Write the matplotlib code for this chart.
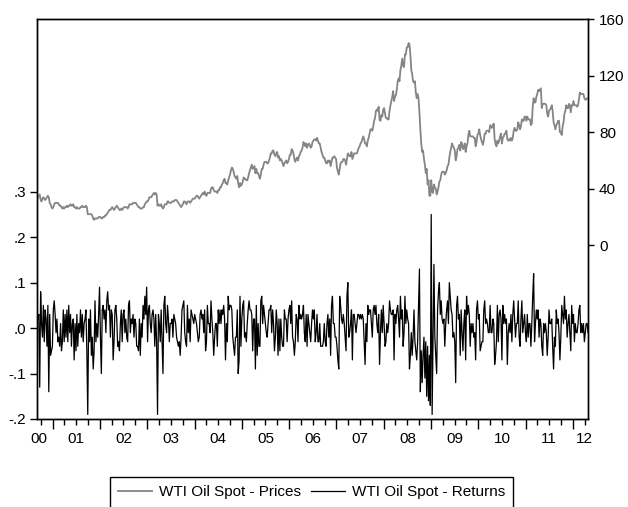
import datetime

import matplotlib
matplotlib.use('Agg')
import matplotlib.pyplot as plt
import matplotlib.dates as mdates
import matplotlib.ticker as mticker
import pandas as pd

plt.rcParams['font.family'] = ['Liberation Sans Narrow', 'Liberation Sans', 'DejaVu Sans']

# weekly (Friday) observations starting 2000-09-01
start_date = '2000-09-01'

# WTI spot price, USD per barrel
prices = [
    33, 34, 35, 36, 32, 31, 33, 34, 33, 32, 33, 34, 35, 34, 30, 29, 27, 26,
    27, 29, 30, 30, 30, 30, 29, 28, 28, 27, 26, 27, 26, 27, 27, 28, 27, 28, 28, 29, 28, 28, 29, 27, 27, 26,
    27, 26, 26, 26, 27, 27, 28, 27, 27, 27, 28, 27, 22, 22, 22, 22, 22, 21, 19, 18, 19, 19, 19, 19, 20, 20,
    20, 19, 19, 20, 20, 21, 21, 22, 23, 24, 25, 25, 26, 27, 26, 25, 26, 27, 28, 27, 26, 25, 25, 26, 25, 26,
    27, 27, 27, 27, 26, 27, 29, 29, 29, 29, 30, 30, 30, 30, 29, 28, 27, 27, 26, 26, 26, 27, 27, 29, 30, 31,
    31, 32, 34, 34, 34, 35, 36, 37, 36, 37, 36, 28, 29, 28, 28, 29, 27, 26, 27, 29, 29, 29, 31, 31, 30, 30,
    30, 31, 31, 31, 32, 32, 32, 31, 30, 29, 28, 27, 28, 29, 31, 31, 30, 29, 31, 31, 31, 30, 31, 32, 33, 33,
    33, 34, 35, 35, 34, 33, 34, 35, 36, 37, 36, 38, 36, 35, 37, 37, 37, 37, 40, 41, 41, 39, 38, 38, 38, 37,
    39, 39, 41, 41, 43, 44, 46, 47, 44, 44, 43, 46, 48, 50, 53, 55, 54, 52, 49, 48, 47, 49, 44, 41, 44, 42, 43,
    45, 48, 47, 47, 46, 46, 48, 51, 53, 55, 57, 54, 55, 56, 51, 54, 51, 51, 49, 47, 50, 54, 54, 57, 59,
    59, 59, 58, 58, 60, 62, 65, 65, 67, 67, 64, 63, 65, 66, 62, 63, 60, 61, 60, 58, 56, 58, 59, 60, 58, 59, 61,
    64, 64, 68, 67, 65, 61, 59, 61, 62, 60, 63, 64, 66, 67, 69, 73, 72, 70, 72, 69, 71, 72, 71, 69, 70, 73,
    74, 75, 75, 74, 76, 74, 72, 72, 69, 66, 64, 62, 62, 60, 58, 58, 60, 59, 60, 56, 59, 62, 62, 63, 62, 61,
    55, 52, 50, 54, 58, 59, 59, 61, 61, 60, 57, 61, 65, 64, 63, 63, 66, 61, 63, 65, 65, 65, 65, 67, 69, 70,
    72, 73, 75, 77, 75, 72, 72, 70, 74, 76, 79, 82, 82, 81, 84, 88, 90, 95, 96, 95, 98, 89, 88, 92, 91, 96,
    97, 93, 90, 90, 89, 89, 95, 99, 102, 105, 109, 102, 105, 106, 110, 116, 118, 116, 124, 127, 132, 127,
    126, 135, 135, 140, 140, 143, 142, 135, 124, 121, 116, 115, 116, 108, 104, 107, 104,
    94, 82, 72, 66, 67, 61, 57, 51, 54, 43, 46, 35, 35,
    46, 38, 37, 43, 41, 40, 36, 38, 41, 45, 46, 50, 52, 52, 52, 50, 51, 53, 56, 57, 62, 66, 69, 72, 70, 69,
    67, 60, 63, 68, 69, 71, 67, 73, 72, 68, 69, 72, 66, 70, 72, 78, 81, 77, 77, 77, 77, 76, 76, 70, 73, 78,
    79, 82, 78, 75, 73, 71, 74, 79, 79, 81, 81, 81, 80, 85, 84, 83, 85, 86, 75, 72, 70, 74, 72, 74, 77, 79,
    72, 76, 77, 79, 79, 81, 75, 74, 75, 74, 76, 74, 76, 81, 83, 81, 81, 82, 87, 85, 82, 84, 89, 88, 88, 91, 91,
    88, 91, 89, 89, 89, 85, 86, 98, 104, 101, 101, 105, 107, 110, 109, 110, 111, 97, 100, 100, 100,
    100, 99, 93, 91, 95, 96, 97, 99, 95, 87, 85, 82, 85, 86, 88, 88, 80, 80, 78, 84, 87, 93,
    95, 99, 97, 97, 100, 99, 94, 99, 99,
    102, 99, 99, 99, 98, 99, 103, 108, 107, 107, 107, 107, 104, 103, 103, 104, 104,
]

# weekly log returns
returns = [
    .04, .02, .03, -.13, .08, .01, -.02, .05, -.03, .04, .02, -.04, .05, -.14, .03, -.06, -.05, -.04,
    .04, .06, .03, -.01, .02, -.03, -.02, -.04, .01, -.05, -.03, .04, -.03, .03, -.02, .04, -.03,
    .05, -.01, .03, -.04, .01, .02, -.07, .01, -.05, .03, -.04, .01, -.01, .04, -.02, .03, -.03, .01,
    .02, .04, -.05, -.19, .02, -.03, .04, -.06, -.02, -.09, -.05, .06, -.03, .01, -.02, .03, .09,
    -.02, -.10, .04, .05, .02, .04, -.01, .06, .08, .04, .05, -.02, .04, .03, -.07, -.03, .04,
    .05, .02, -.04, -.03, -.05, .01, .04, -.03, .03, .04, -.01, .02, -.02, -.03, .05, .06, -.01, .02,
    .01, .03, -.02, .02, .01, -.04, -.04, -.05, .02, -.06, .01, -.02, .05, .02, .07, .03, .09,
    -.03, .04, .05, .01, -.01, .03, .04, .02, -.04, .03, -.03, -.19, .03, .01, -.03, .04, -.03,
    -.10, .05, .07, .01, -.01, .05, .02, -.03, .01, .01, .02, -.02, .03, .02, .01, -.02, -.03, -.04,
    -.03, -.06, -.02, .04, .05, .06, -.01, -.03, -.04, .05, -.01, .02, -.03, .04, .03, .02, .01,
    .03, .02, .01, -.01, -.03, -.02, .03, .04, .02, .03, -.01, .04, -.05, -.03, .05, .01, .01, -.01,
    .06, .02, -.01, -.06, -.02, .01, .01, -.04, .04, .01, .04, .01, .04, .03, .05, .02, -.07,
    .01, -.03, .07, .04, .05, .05, .04, -.02, -.04, -.06, -.02, -.02, .04, -.10, -.07, .07, -.04, .02,
    .05, .06, -.02, -.01, -.03, .01, .04, .06, .04, .04, .03, -.05, .02, .02, -.09, .05, -.06,
    .01, -.04, -.04, .06, .07, .01, .05, .03, .01, -.01, -.02, .01, .04, .04, .05, -.01, .04,
    .01, -.05, -.02, .04, .01, -.06, .02, -.05, .02, -.02, -.04, -.04, .04, .02, .02, -.03, .02, .04,
    .05, .01, .06, -.02, -.03, -.06, -.03, .03, .02, -.03, .05, .02, .03, .02, .03, .05, -.01,
    -.03, .03, -.04, .03, .01, -.01, -.03, .01, .04, .02, .04, -.03, -.01, .03, -.03, -.03, .01,
    -.04, -.04, -.04, -.03, .01, -.03, -.04, .01, .03, -.02, .02, -.06, .05, .07, .01, .01, -.02, -.02,
    -.04, -.07, -.09, .07, .05, .02, .01, .03, .01, -.02, -.05, .07, .10, -.02, -.01, .01, .04,
    -.07, .03, .03, .01, -.01, .01, .03, .03, .02, .03, .02, .03, .02, -.03, -.08, .01, -.03, .05,
    .03, .04, .04, .01, -.02, .04, .05, .03, .05, .01, -.01, .03, -.08, -.01, .04, -.01, .05,
    .01, -.04, -.03, .01, -.01, .01, .06, .04, .03, .03, .04, -.07, .03, .01, .04, .05, .02,
    -.02, .07, .02, .04, -.04, -.01, .07, .01, .04, .02, .01, -.09, -.06,
    -.01, -.06, -.02, .04, -.03, -.05, -.07, -.03, .05, .13, -.14, -.05, -.12, -.06,
    -.02, -.11, -.03, -.15, -.04, -.16, -.06, -.17,
    .25, -.19, -.03, .14, -.02, -.06, -.10, .04, .08, .10, .03, .06, .02, .01, .02, -.04, .01,
    .04, .06, .01, .10, .07, .04, .03, -.02, -.01, -.03, -.12, .05, .07, .02, .03, -.06, .04, -.01,
    -.05, .01, .04, -.07, .07, .03, .05, .03, -.04, .01, -.01, .01, -.02, -.01, -.07, .04, .06,
    .02, .03, -.05, -.04, -.03, -.03, .04, .06, .01, .02, .01, -.01, -.01, .05, -.01, -.01, .02, .01,
    -.08, -.06, -.03, .05, -.03, .03, .04, .02, -.07, .05, .01, .03, .01, .02, -.08, -.01, .01,
    -.01, .03, -.03, .03, .06, .02, -.02, .01, .01, .06, -.02, -.04, .02, .06, -.01, .01, .03, -.01,
    -.03, .03, -.02, .01, .01, -.04, .01, .07, .12, -.03, .01, .04, .02, .04, -.02, .02, .01,
    -.04, -.06, .01, -.01, .01, -.01, -.06, -.02, .04, .01, .01, .02, -.04, -.09, -.02, -.04, .04,
    .01, .02, -.01, -.07, -.02, .05, .03, .01, .07, .02, .04, -.02, .01, .03, -.01, -.05, .05, .01,
    .03, -.03, .01, -.01, -.01, .01, .04, .05, -.01, .01, -.01, .01, -.03, -.01, .01, .01, -.01,
]

year_labels = ['00', '01', '02', '03', '04', '05', '06', '07', '08', '09', '10', '11', '12']

dates_p = pd.date_range(start_date, periods=len(prices), freq='W-FRI')
dates_r = pd.date_range(start_date, periods=len(returns), freq='W-FRI')

fig = plt.figure(figsize=(6.28, 5.07), dpi=100)
ax = fig.add_axes([37 / 628, 1 - 419 / 507, (588 - 37) / 628, (419 - 19) / 507])
ax2 = ax.twinx()

l_ret, = ax.plot(dates_r, returns, color='black', lw=0.9, label='WTI Oil Spot - Returns')
l_pr, = ax2.plot(dates_p, prices, color='#858585', lw=1.3, label='WTI Oil Spot - Prices')

x0, x1 = dates_p[0], dates_p[-1]
ax.set_xlim(x0, x1)
ax.set_ylim(-0.2, 0.68)
ax2.set_ylim(-122.8, 160)

ax.set_yticks([-0.2, -0.1, 0.0, 0.1, 0.2, 0.3])
ax.set_yticklabels(['-.2', '-.1', '.0', '.1', '.2', '.3'])
ax2.set_yticks([0, 40, 80, 120, 160])

ax.xaxis.set_major_locator(mdates.YearLocator())
ax.xaxis.set_minor_locator(mdates.MonthLocator(bymonth=[1, 4, 7, 10]))
ax.xaxis.set_major_formatter(mticker.NullFormatter())
ax.tick_params(axis='x', which='major', direction='out', length=7, width=1)
ax.tick_params(axis='x', which='minor', direction='out', length=4, width=1)
ax.tick_params(axis='y', direction='out', length=5, width=1, labelsize=11, pad=3)
ax2.tick_params(axis='y', direction='out', length=4, width=1, labelsize=11, pad=4)

for a in (ax, ax2):
    for s in a.spines.values():
        s.set_color('black')
        s.set_linewidth(1)

# year labels sit in the middle of each year, kept inside the frame
lo = mdates.date2num(x0) + 15
hi = mdates.date2num(x1) - 30
for lab in year_labels:
    yr = 2000 + int(lab)
    mid = mdates.date2num(datetime.datetime(yr, 7, 2))
    ax.text(min(max(mid, lo), hi), -0.049, lab, transform=ax.get_xaxis_transform(),
            ha='center', va='center', fontsize=11)

leg = fig.legend([l_pr, l_ret], [l_pr.get_label(), l_ret.get_label()],
                 loc='upper center', bbox_to_anchor=(311.5 / 628, 1 - 477 / 507),
                 ncol=2, fontsize=11, frameon=True, fancybox=False, framealpha=1,
                 edgecolor='black', handlelength=2.2, handletextpad=0.45,
                 columnspacing=0.7, borderpad=0.55, borderaxespad=0)
leg.get_frame().set_linewidth(1)

fig.savefig('out.png', dpi=100)
